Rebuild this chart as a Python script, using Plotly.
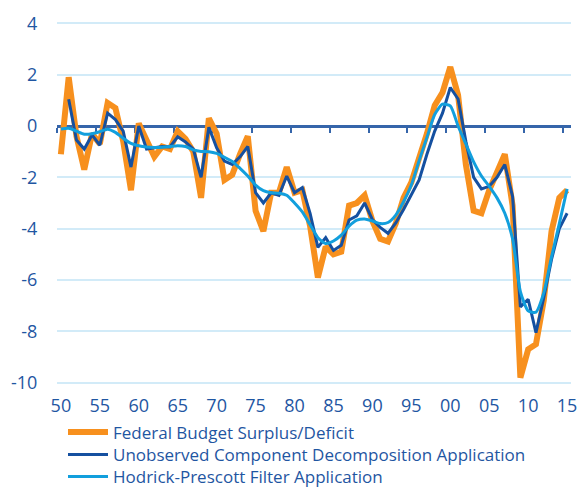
import plotly.graph_objects as go

years = list(range(1950, 2016))

budget = [-1.1, 1.9, -0.4, -1.7, -0.3, -0.7, 0.9, 0.7, -0.6, -2.5,
          0.1, -0.6, -1.2, -0.8, -0.9, -0.2, -0.5, -1.0, -2.8, 0.3,
          -0.3, -2.1, -1.9, -1.1, -0.4, -3.3, -4.1, -2.6, -2.6, -1.6,
          -2.6, -2.5, -3.9, -5.9, -4.7, -5.0, -4.9, -3.1, -3.0, -2.7,
          -3.7, -4.4, -4.5, -3.8, -2.8, -2.2, -1.3, -0.3, 0.8, 1.3,
          2.3, 1.2, -1.5, -3.3, -3.4, -2.5, -1.8, -1.1, -3.1, -9.8,
          -8.7, -8.5, -6.8, -4.1, -2.8, -2.5]

ucd = [None, 1.04, -0.55, -0.9, -0.35, -0.75, 0.5, 0.25, -0.2, -1.6,
       0.0, -0.9, -0.85, -0.8, -0.82, -0.42, -0.62, -0.9, -2.0, -0.05,
       -0.85, -1.37, -1.5, -1.2, -0.8, -2.6, -3.0, -2.6, -2.7, -1.95,
       -2.6, -2.4, -3.4, -4.73, -4.35, -4.85, -4.65, -3.66, -3.5, -3.0,
       -3.65, -3.95, -4.18, -3.78, -3.25, -2.7, -2.1, -1.1, -0.2, 0.5,
       1.5, 1.05, -0.6, -2.0, -2.45, -2.35, -2.0, -1.5, -2.75, -7.05,
       -6.75, -8.05, -6.7, -5.2, -4.0, -3.4]

hp = [-0.12, -0.09, -0.2, -0.32, -0.3, -0.22, -0.13, -0.25, -0.48, -0.68,
      -0.77, -0.82, -0.84, -0.83, -0.8, -0.77, -0.8, -0.93, -0.99, -1.0,
      -1.07, -1.22, -1.38, -1.65, -1.95, -2.3, -2.52, -2.6, -2.62, -2.7,
      -3.0, -3.35, -3.85, -4.35, -4.58, -4.48, -4.25, -3.9, -3.67, -3.62,
      -3.7, -3.8, -3.76, -3.47, -2.95, -2.3, -1.35, -0.45, 0.45, 0.85,
      0.78, 0.0, -0.7, -1.4, -1.95, -2.35, -2.8, -3.4, -4.4, -6.45,
      -7.2, -7.25, -6.5, -5.1, -3.8, -2.45]

series_names = ["Federal Budget Surplus/Deficit",
                "Unobserved Component Decomposition Application",
                "Hodrick-Prescott Filter Application"]

x_tick_vals = list(range(1950, 2016, 5))
x_tick_text = ["50", "55", "60", "65", "70", "75", "80", "85", "90", "95", "00", "05", "10", "15"]
y_tick_vals = [4, 2, 0, -2, -4, -6, -8, -10]
y_tick_text = ["4", "2", "0", "-2", "-4", "-6", "-8", "-10"]

ORANGE = "#F7901E"
DARK = "#1550A0"
LIGHT = "#129FDD"
TXT = "#1F56A2"
GRID = "#D2EBF8"
AXIS = "#3565AA"

YMIN, YMAX = -10.05, 4.05
W, H = 582, 489
ML, MR, MT, MB = 57, 11, 22, 105
plot_h = H - MT - MB
plot_w = W - ML - MR


def legend_y(py):
    return (H - MB - py) / plot_h


fig = go.Figure()
fig.add_trace(go.Scatter(x=years, y=budget, mode="lines", name=series_names[0],
                         line=dict(color=ORANGE, width=6), legend="legend"))
fig.add_trace(go.Scatter(x=years, y=ucd, mode="lines", name=series_names[1],
                         line=dict(color=DARK, width=3), legend="legend2"))
fig.add_trace(go.Scatter(x=years, y=hp, mode="lines", name=series_names[2],
                         line=dict(color=LIGHT, width=3, shape="spline", smoothing=0.6),
                         legend="legend3"))

# invisible trace for the zero-line axis
fig.add_trace(go.Scatter(x=[1949.5], y=[0], xaxis="x2", mode="markers",
                         marker=dict(opacity=0), showlegend=False, hoverinfo="skip"))

leg_common = dict(x=6 / plot_w, xanchor="left", yanchor="middle",
                  font=dict(size=17, color=TXT), itemwidth=40,
                  bgcolor="rgba(0,0,0,0)")

fig.update_layout(
    width=W, height=H,
    margin=dict(l=ML, r=MR, t=MT, b=MB, autoexpand=False),
    paper_bgcolor="white", plot_bgcolor="white",
    font=dict(family="Open Sans", color=TXT),
    showlegend=True,
    legend=dict(y=legend_y(432.5), **leg_common),
    legend2=dict(y=legend_y(455), **leg_common),
    legend3=dict(y=legend_y(477), **leg_common),
    xaxis=dict(range=[1949.5, 2015.5], tickvals=x_tick_vals, ticktext=x_tick_text,
               showgrid=False, showline=False, zeroline=False,
               ticks="outside", ticklen=5, tickcolor="rgba(0,0,0,0)",
               tickfont=dict(size=18, color=TXT)),
    xaxis2=dict(range=[1949.5, 2015.5], overlaying="x", anchor="free",
                position=(0 - YMIN) / (YMAX - YMIN), side="bottom",
                tickvals=[v - 0.5 for v in x_tick_vals], showticklabels=False,
                ticks="outside", ticklen=5, tickwidth=2, tickcolor=AXIS,
                showline=True, linecolor=AXIS, linewidth=2.5,
                showgrid=False, zeroline=False, layer="below traces"),
    yaxis=dict(range=[YMIN, YMAX], tickvals=y_tick_vals, ticktext=y_tick_text,
               showgrid=True, gridcolor=GRID, gridwidth=1.5, zeroline=False,
               showline=False, ticks="outside", ticklen=15, tickcolor="rgba(0,0,0,0)",
               tickfont=dict(size=18, color=TXT)),
)

fig.write_html("out.html", config={"displayModeBar": False},
               post_script="document.body.style.margin='0px';")
